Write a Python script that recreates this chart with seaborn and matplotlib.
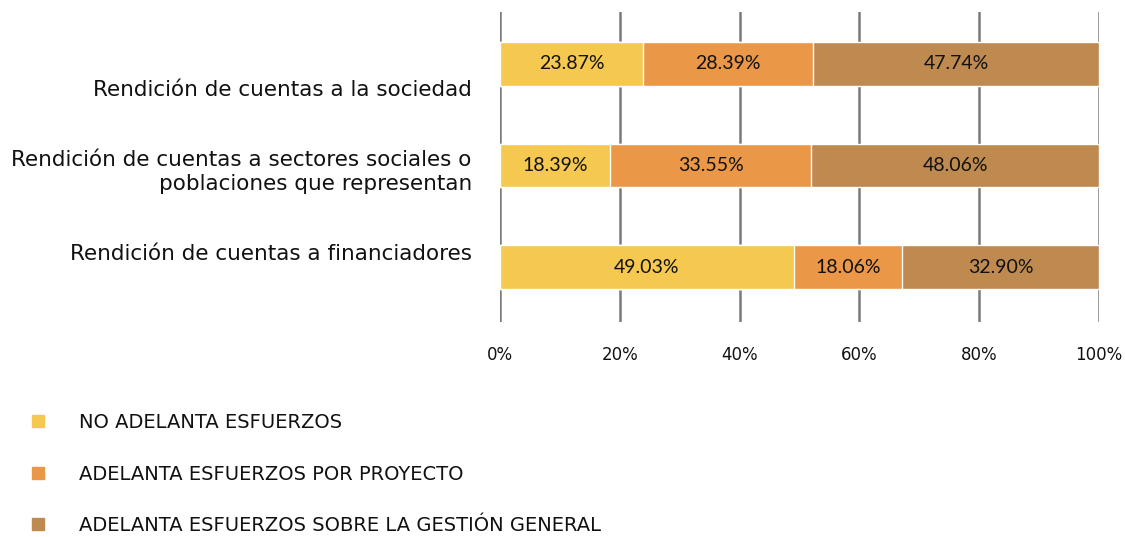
import matplotlib
matplotlib.use("Agg")
import matplotlib.pyplot as plt
import seaborn as sns
import numpy as np
import pandas as pd
from matplotlib.lines import Line2D

categories = [
    "Rendición de cuentas a la sociedad",
    "Rendición de cuentas a sectores sociales o\npoblaciones que representan",
    "Rendición de cuentas a financiadores",
]
series_names = [
    "NO ADELANTA ESFUERZOS",
    "ADELANTA ESFUERZOS POR PROYECTO",
    "ADELANTA ESFUERZOS SOBRE LA GESTIÓN GENERAL",
]
no_adelanta = [23.87, 18.39, 49.03]
por_proyecto = [28.39, 33.55, 18.06]
gestion_general = [47.74, 48.06, 32.90]
x_ticks = [0, 20, 40, 60, 80, 100]
x_tick_labels = ["0%", "20%", "40%", "60%", "80%", "100%"]

colors = ["#F5C84F", "#EB9748", "#BE8A50"]

sns.set_theme(style="white")
plt.rcParams["font.family"] = ["DejaVu Sans"]

values = np.array([no_adelanta, por_proyecto, gestion_general])
cum = np.cumsum(values, axis=0)

fig = plt.figure(figsize=(11.25, 5.37), dpi=100)
ax = fig.add_axes([0.4444, 0.4004, 0.5325, 0.5773])

# draw cumulative bars from largest to smallest so they stack visually
for i in reversed(range(3)):
    df = pd.DataFrame({"cat": categories, "val": cum[i]})
    sns.barplot(data=df, x="val", y="cat", orient="h", color=colors[i],
                width=0.43, ax=ax, saturation=1, zorder=3)

# segment labels
for i in range(3):
    lefts = cum[i] - values[i]
    for j in range(3):
        ax.text(lefts[j] + values[i][j] / 2, j, f"{values[i][j]:.2f}%",
                ha="center", va="center", fontsize=14, color="#111111",
                family=["Lato", "DejaVu Sans"], zorder=5)

ax.set_xlim(0, 100)
ax.set_ylim(2.54, -0.51)
ax.set_xticks(x_ticks)
ax.set_xticklabels(x_tick_labels, fontsize=12, color="#111111")
ax.tick_params(axis="x", length=0, pad=17.5)
ax.set_yticks([])
ax.set_xlabel("")
ax.set_ylabel("")
for s in ax.spines.values():
    s.set_visible(False)
for xv in x_ticks:
    ax.axvline(xv, color="#7a7a7a", lw=1.8, zorder=1)

# category labels (offset as in reference)
label_offsets = [0.26, 0.06, -0.13]
for j, c in enumerate(categories):
    ax.text(-4.7, j + label_offsets[j], c, ha="right", va="center",
            fontsize=15.5, color="#111111", linespacing=1.25,
            transform=ax.transData)

handles = [Line2D([0], [0], marker="s", linestyle="none", markersize=8,
                  markerfacecolor=colors[i], markeredgecolor=colors[i])
           for i in range(3)]
leg = fig.legend(handles, series_names, loc="upper left",
                 bbox_to_anchor=(0.0098, 0.2455), frameon=False, fontsize=14,
                 labelspacing=1.68, handletextpad=1.1, borderaxespad=0)
for t in leg.get_texts():
    t.set_color("#111111")

fig.savefig("out.png", dpi=100)
